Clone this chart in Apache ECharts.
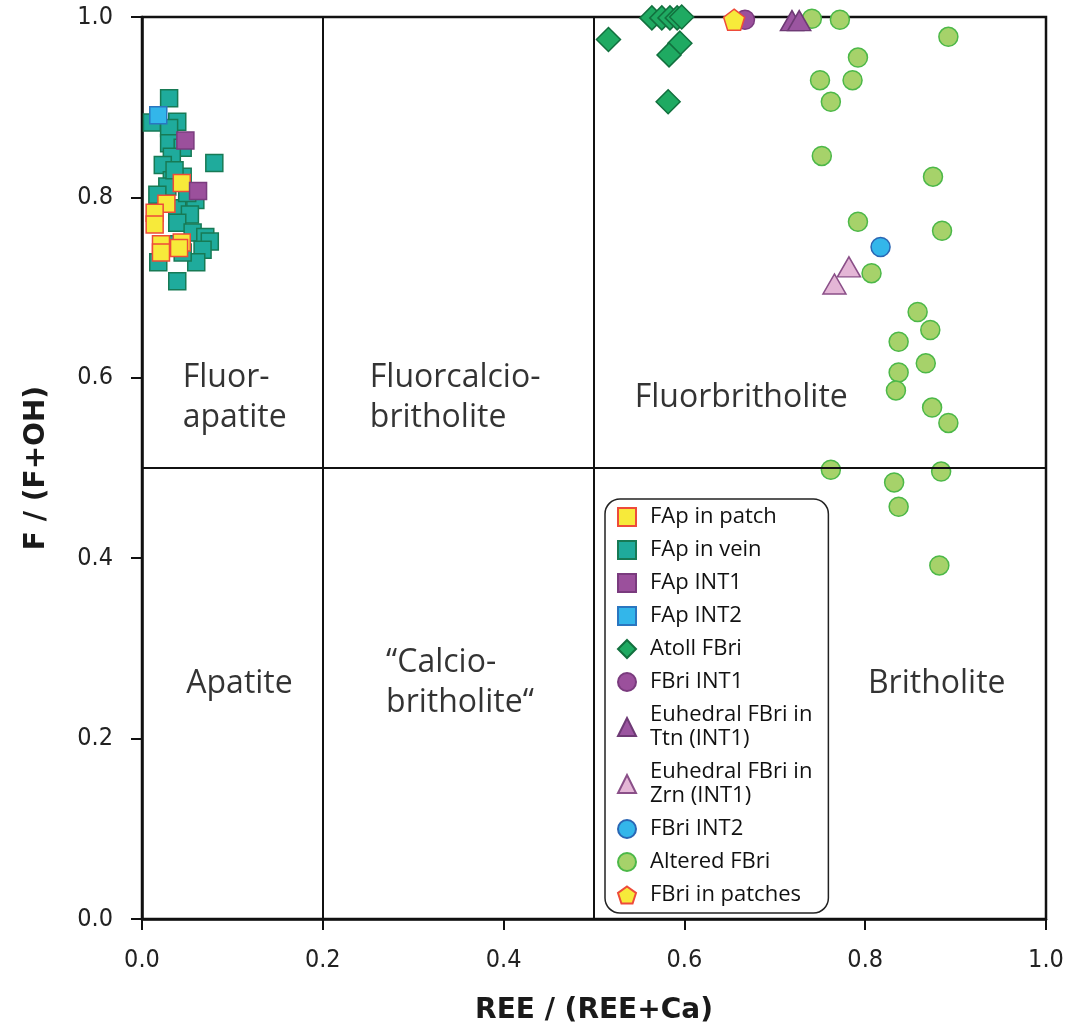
<!DOCTYPE html>
<html>
<head>
<meta charset="utf-8">
<style>html,body{margin:0;padding:0;background:#fff}#c{width:1069px;height:1030px}</style>
<script src="https://cdn.jsdelivr.net/npm/echarts@6/dist/echarts.min.js"></script>
</head>
<body>
<div id="c"></div>
<script>
// ---- Data (x = REE/(REE+Ca), y = F/(F+OH)) ----
const fapPatch = [[0.044,0.816],[0.027,0.793],[0.014,0.783],[0.014,0.770],[0.021,0.748],[0.021,0.739],[0.044,0.750],[0.041,0.744]];
const fapVein = [[0.030,0.910],[0.011,0.883],[0.039,0.884],[0.030,0.877],[0.030,0.860],[0.045,0.855],[0.033,0.845],[0.023,0.836],[0.080,0.838],[0.033,0.819],[0.045,0.823],[0.028,0.812],[0.017,0.803],[0.059,0.797],[0.039,0.788],[0.053,0.781],[0.039,0.772],[0.056,0.761],[0.070,0.756],[0.075,0.751],[0.067,0.742],[0.031,0.748],[0.018,0.728],[0.060,0.728],[0.045,0.739],[0.039,0.707],[0.050,0.805],[0.036,0.830]];
const fapInt1 = [[0.048,0.863],[0.062,0.807]];
const fapInt2 = [[0.018,0.891]];
const atollFBri = [[0.564,0.999],[0.575,0.999],[0.584,0.999],[0.592,0.999],[0.597,1.000],[0.516,0.975],[0.595,0.971],[0.583,0.958],[0.582,0.906]];
const fbriInt1 = [[0.667,0.997]];
const euhTtn = [[0.719,0.996],[0.727,0.996]];
const euhZrn = [[0.782,0.723],[0.766,0.704]];
const fbriInt2 = [[0.817,0.745]];
const alteredFBri = [[0.741,0.998],[0.772,0.997],[0.892,0.978],[0.792,0.955],[0.750,0.930],[0.786,0.930],[0.762,0.906],[0.752,0.846],[0.875,0.823],[0.792,0.773],[0.885,0.763],[0.807,0.716],[0.858,0.673],[0.872,0.653],[0.837,0.640],[0.867,0.616],[0.837,0.606],[0.834,0.586],[0.874,0.567],[0.892,0.550],[0.762,0.498],[0.884,0.496],[0.832,0.484],[0.837,0.457],[0.882,0.392]];
const fbriPatches = [[0.655,0.997]];
const regionLabels = [
  {name:'Fluor-\napatite', value:[0.045,0.578]},
  {name:'Fluorcalcio-\nbritholite', value:[0.252,0.578]},
  {name:'Fluorbritholite', value:[0.545,0.578]},
  {name:'Apatite', value:[0.049,0.261]},
  {name:'\u201cCalcio-\nbritholite\u201c', value:[0.270,0.262]},
  {name:'Britholite', value:[0.803,0.261]}
];
const tickLabels = ['0.0','0.2','0.4','0.6','0.8','1.0'];
const legendNames = ['FAp in patch','FAp in vein','FAp INT1','FAp INT2','Atoll FBri','FBri INT1','Euhedral FBri in\nTtn (INT1)','Euhedral FBri in\nZrn (INT1)','FBri INT2','Altered FBri','FBri in patches'];

const pentagon = 'path://M0,-10 L9.51,-3.09 L5.88,8.09 L-5.88,8.09 L-9.51,-3.09 Z';
const condFont = '"DejaVu Sans Condensed","Liberation Sans Narrow","DejaVu Sans",sans-serif';
const boldFont = '"DejaVu Sans",sans-serif';
const txtFont = '"Open Sans","Noto Sans",sans-serif';

function sc(name, data, symbol, size, fill, stroke, z) {
  return {name, type:'scatter', data, symbol, symbolSize:size, clip:false, z:z,
    itemStyle:{color:fill, borderColor:stroke, borderWidth:1.5, opacity:1}};
}

const chart = echarts.init(document.getElementById('c'), null, {renderer:'canvas'});
const axisCommon = {
  type:'value', min:0, max:1, interval:0.2,
  axisLine:{show:true, onZero:false, lineStyle:{color:'#111', width:2.5}},
  axisTick:{show:true, inside:false, length:11, lineStyle:{color:'#111', width:2}},
  splitLine:{show:false},
  axisLabel:{formatter:(v)=>tickLabels[Math.round(v/0.2)], color:'#222', fontSize:25, fontFamily:condFont},
  nameLocation:'middle',
  nameTextStyle:{color:'#1a1a1a', fontSize:28, fontWeight:'bold', fontFamily:boldFont}
};
chart.setOption({
  animation:false,
  backgroundColor:'#fff',
  grid:{left:142, right:23, top:17, bottom:110, show:true, borderColor:'#111', borderWidth:2.5, backgroundColor:'transparent'},
  xAxis:Object.assign({}, axisCommon, {name:'REE / (REE+Ca)', nameGap:78, axisLabel:Object.assign({}, axisCommon.axisLabel, {margin:29})}),
  yAxis:Object.assign({}, axisCommon, {name:'F / (F+OH)', nameGap:91, nameRotate:90, axisLabel:Object.assign({}, axisCommon.axisLabel, {margin:29})}),
  legend:{
    data:legendNames, orient:'vertical', left:605, top:499, selectedMode:false,
    itemWidth:18, itemHeight:18, itemGap:9, padding:[6,16,6,12],
    backgroundColor:'#fff', borderColor:'#222', borderWidth:1.5, borderRadius:15,
    textStyle:{fontFamily:txtFont, fontSize:22, lineHeight:24, color:'#111', padding:[0,0,0,9]}
  },
  series:[
    {type:'line', data:[], silent:true, z:1,
      markLine:{silent:true, symbol:'none', label:{show:false}, lineStyle:{color:'#111', width:2, type:'solid'},
        data:[{xAxis:0.2},{xAxis:0.5},{yAxis:0.5}]}},
    {name:'regions', type:'scatter', data:regionLabels, symbolSize:0, silent:true, z:2,
      label:{show:true, position:'inside', align:'left', verticalAlign:'middle', formatter:(p)=>p.name,
        fontFamily:txtFont, fontSize:32, lineHeight:40, color:'#000'}},
    sc('Altered FBri', alteredFBri, 'circle', 19, '#a6d26a', '#4cb848', 3),
    sc('FAp in vein', fapVein, 'rect', 17, '#1fab9c', '#177a55', 3),
    sc('FAp in patch', fapPatch, 'rect', 17, '#f7ea3a', '#ee4b3a', 4),
    sc('FAp INT1', fapInt1, 'rect', 17, '#9b509c', '#7a3b7e', 4),
    sc('FAp INT2', fapInt2, 'rect', 17, '#33b6ea', '#2a76c0', 4),
    sc('Atoll FBri', atollFBri, 'diamond', [24,24], '#1faa62', '#12703e', 4),
    sc('FBri INT1', fbriInt1, 'circle', 19, '#9b509c', '#7a3b7e', 4),
    sc('Euhedral FBri in\nTtn (INT1)', euhTtn, 'triangle', [23,20], '#9b55a0', '#6e3a75', 5),
    sc('Euhedral FBri in\nZrn (INT1)', euhZrn, 'triangle', [23,20], '#e4b6d6', '#8a4f88', 5),
    sc('FBri INT2', fbriInt2, 'circle', 19, '#33b6ea', '#2a66b4', 5),
    sc('FBri in patches', fbriPatches, pentagon, 21, '#f7ea3a', '#ee4b3a', 6)
  ]
});
</script>
</body>
</html>
